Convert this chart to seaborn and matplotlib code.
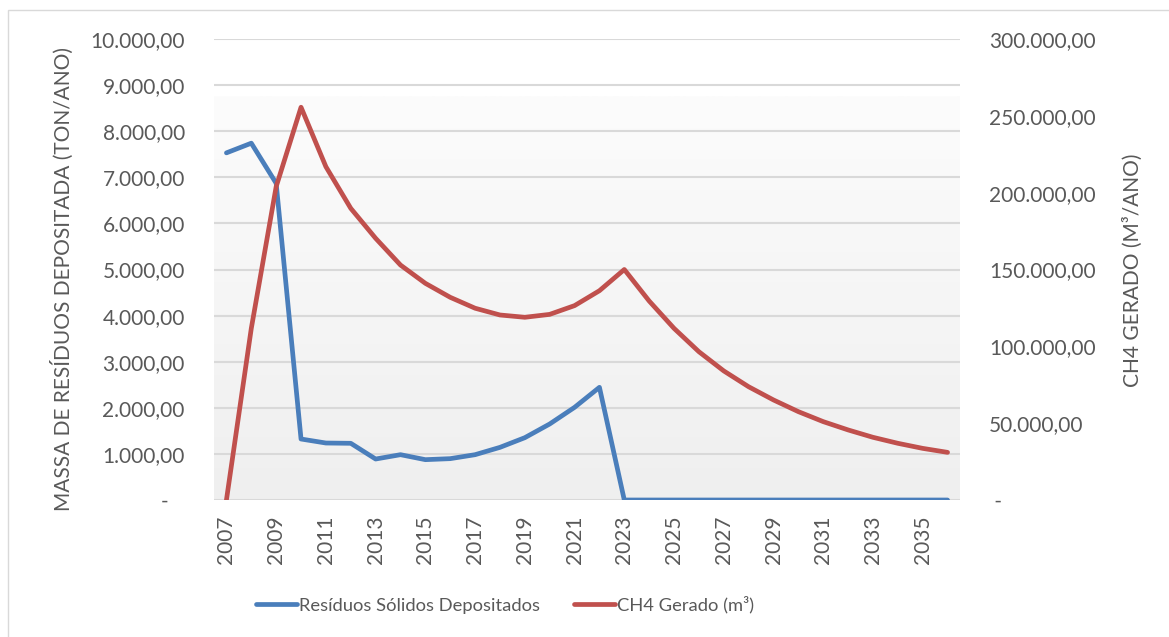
import numpy as np
import pandas as pd
import matplotlib
matplotlib.use("Agg")
import matplotlib.pyplot as plt
import seaborn as sns
from matplotlib.patches import Rectangle
from matplotlib.ticker import FuncFormatter, FixedLocator
from matplotlib.colors import LinearSegmentedColormap

years = list(range(2007, 2037))
residuos = [7530, 7740, 6870, 1323, 1236, 1230, 889, 983, 875, 897, 983, 1142,
            1352, 1649, 2010, 2444, 0, 0, 0, 0, 0, 0, 0, 0, 0, 0, 0, 0, 0, 0]
ch4 = [0, 111700, 203900, 255600, 216900, 189800, 170300, 152900, 141000, 131900,
       124800, 120400, 118900, 120800, 126500, 136200, 150000, 129500, 111700, 96500,
       84000, 73700, 65100, 57500, 51000, 45600, 40800, 36900, 33600, 31000]
xtick_years = list(range(2007, 2036, 2))
label_res = "Resíduos Sólidos Depositados"
label_ch4 = "CH4 Gerado (m³)"
ylabel_left = "MASSA DE RESÍDUOS DEPOSITADA (TON/ANO)"
ylabel_right = "CH4 GERADO (M³/ANO)"

df = pd.DataFrame({"ano": years, "res": residuos, "ch4": ch4})

sns.set_theme(style="white")
plt.rcParams["font.family"] = ["Lato", "DejaVu Sans"]
TXT = "#595959"
FS = 15
FS_LEG = 13.2

W, H = 1169, 637
fig = plt.figure(figsize=(W / 100, H / 100), dpi=100)
L, R, T, B = 214, 960, 39, 500
ax = fig.add_axes([L / W, 1 - B / H, (R - L) / W, (B - T) / H])
ax2 = ax.twinx()

# chart border
fig.patches.append(Rectangle((8 / W, -0.1), 1.2, 1 - 10 / H + 0.1, transform=fig.transFigure,
                             fill=False, edgecolor="#d9d9d9", lw=1.0))

# gradient background in plot area
grad = np.linspace(0, 1, 256).reshape(-1, 1)
cmap = LinearSegmentedColormap.from_list("g", ["#efefef", "#fcfcfc"])
ax.imshow(grad, extent=(2006.5, 2036.5, 0, 8750), origin="lower", aspect="auto",
          cmap=cmap, zorder=0)
ax.set_xlim(2006.5, 2036.5)
ax.set_ylim(0, 10000)
ax2.set_ylim(0, 300000)

for v in range(0, 10001, 1000):
    ax.axhline(v, color="#d9d9d9", lw=1.5, zorder=1)

sns.lineplot(data=df, x="ano", y="res", ax=ax, color="#4a7ebb", lw=3.4,
             label=label_res, legend=False, zorder=3, solid_capstyle="round")
sns.lineplot(data=df, x="ano", y="ch4", ax=ax2, color="#c0504d", lw=3.4,
             label=label_ch4, legend=False, zorder=3, solid_capstyle="round")

def fmt(v):
    s = f"{v:,.2f}"
    return s.replace(",", "X").replace(".", ",").replace("X", ".")

ax.yaxis.set_major_locator(FixedLocator(list(range(0, 10001, 1000))))
ax.yaxis.set_major_formatter(FuncFormatter(lambda v, p: fmt(v) if v else "-   "))
ax2.yaxis.set_major_locator(FixedLocator(list(range(0, 300001, 50000))))
ax2.yaxis.set_major_formatter(FuncFormatter(lambda v, p: fmt(v) if v else " -"))
ax.set_xticks(xtick_years)
ax.set_xticklabels([str(y) for y in xtick_years], rotation=90)

ax.tick_params(axis="y", length=0, pad=21, labelsize=FS, labelcolor=TXT)
ax2.tick_params(axis="y", length=0, pad=21, labelsize=FS, labelcolor=TXT)
ax.tick_params(axis="x", length=0, pad=11, labelsize=FS, labelcolor=TXT)
ax.set_xlabel("")
ax.set_ylabel("")
ax2.set_ylabel("")
for a in (ax, ax2):
    for s in a.spines.values():
        s.set_visible(False)
ax.set_zorder(1)
ax2.set_zorder(2)
ax2.patch.set_visible(False)

fig.text(62 / W, 1 - 279 / H, ylabel_left, rotation=90, ha="center", va="center",
         fontsize=FS, color=TXT)
fig.text(1133 / W, 1 - 270 / H, ylabel_right, rotation=90, ha="center", va="center",
         fontsize=FS, color=TXT)

h1, l1 = ax.get_legend_handles_labels()
h2, l2 = ax2.get_legend_handles_labels()
leg = fig.legend(h1 + h2, l1 + l2, loc="center", bbox_to_anchor=(505 / W, 1 - 605 / H),
                 ncol=2, frameon=False, fontsize=FS_LEG, handlelength=2.2, handletextpad=0.1,
                 columnspacing=1.9, labelcolor=TXT)

fig.savefig("out.png", dpi=100)
